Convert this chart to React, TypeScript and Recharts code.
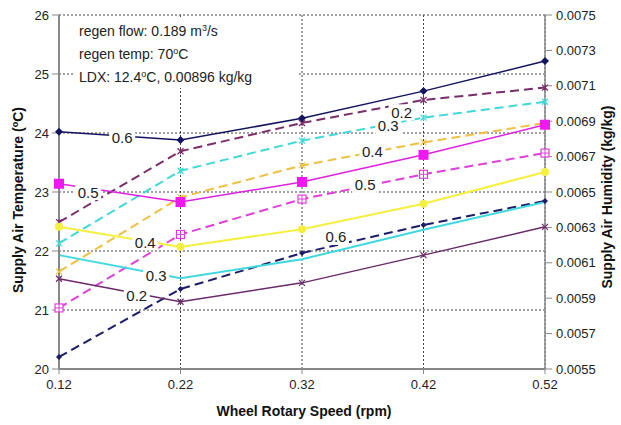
import {
  LineChart,
  Line,
  XAxis,
  YAxis,
  CartesianGrid,
  ReferenceDot,
} from 'recharts';

// ---------------------------------------------------------------------------
// Data
// ---------------------------------------------------------------------------

const speeds = [0.12, 0.22, 0.32, 0.42, 0.52];
const speedTicks = [0.12, 0.22, 0.32, 0.42, 0.52];
const tempTicks = [20, 21, 22, 23, 24, 25, 26];
const humTicks = [
  0.0055, 0.0057, 0.0059, 0.0061, 0.0063, 0.0065, 0.0067, 0.0069, 0.0071,
  0.0073, 0.0075,
];

// supply air temperature (degC) by desiccant effectiveness
const temp06 = [24.02, 23.88, 24.25, 24.71, 25.22];
const temp05 = [23.14, 22.83, 23.17, 23.63, 24.14];
const temp04 = [22.41, 22.07, 22.37, 22.8, 23.34];
const temp03 = [21.93, 21.54, 21.86, 22.36, 22.83];
const temp02 = [21.53, 21.14, 21.46, 21.93, 22.41];

// supply air humidity (kg/kg)
const hum02 = [0.00633, 0.00673, 0.00689, 0.00702, 0.00709];
const hum03 = [0.00621, 0.00662, 0.00679, 0.00692, 0.00701];
const hum04 = [0.00605, 0.00647, 0.00665, 0.00678, 0.00689];
const hum05 = [0.005845, 0.00626, 0.00646, 0.0066, 0.00672];
const hum06 = [0.005568, 0.005952, 0.006155, 0.006314, 0.006449];

// in-line curve tags (data coordinates)
const tempTags = [
  { text: '0.6', x: 0.172, y: 23.92 },
  { text: '0.5', x: 0.144, y: 23.0 },
  { text: '0.4', x: 0.191, y: 22.15 },
  { text: '0.3', x: 0.2, y: 21.58 },
  { text: '0.2', x: 0.184, y: 21.25 },
];
const humTags = [
  { text: '0.2', x: 0.402, y: 0.00695 },
  { text: '0.3', x: 0.391, y: 0.006873 },
  { text: '0.4', x: 0.378, y: 0.006726 },
  { text: '0.5', x: 0.372, y: 0.00654 },
  { text: '0.6', x: 0.348, y: 0.006246 },
];

const rows = speeds.map((s, i) => ({
  speed: s,
  t06: temp06[i],
  t05: temp05[i],
  t04: temp04[i],
  t03: temp03[i],
  t02: temp02[i],
  h02: hum02[i],
  h03: hum03[i],
  h04: hum04[i],
  h05: hum05[i],
  h06: hum06[i],
}));

// ---------------------------------------------------------------------------
// Markers
// ---------------------------------------------------------------------------

type Shape = 'diamond' | 'square' | 'circle' | 'x' | 'star' | 'boxcross' | 'none';

function marker(shape: Shape, color: string, size = 4) {
  return (p: any) => {
    const { cx, cy, index } = p;
    const k = `m-${index}`;
    if (cx == null || cy == null || shape === 'none') return <g key={k} />;
    const s = size;
    switch (shape) {
      case 'diamond':
        return (
          <path
            key={k}
            d={`M${cx},${cy - s} L${cx + s},${cy} L${cx},${cy + s} L${cx - s},${cy} Z`}
            fill={color}
          />
        );
      case 'square':
        return <rect key={k} x={cx - s} y={cy - s} width={2 * s} height={2 * s} fill={color} />;
      case 'circle':
        return <circle key={k} cx={cx} cy={cy} r={s} fill={color} />;
      case 'x':
        return (
          <path
            key={k}
            d={`M${cx - s},${cy - s} L${cx + s},${cy + s} M${cx - s},${cy + s} L${cx + s},${cy - s}`}
            stroke={color}
            strokeWidth={1.2}
          />
        );
      case 'star':
        return (
          <path
            key={k}
            d={`M${cx - s},${cy - s} L${cx + s},${cy + s} M${cx - s},${cy + s} L${cx + s},${cy - s} M${cx},${cy - s} L${cx},${cy + s}`}
            stroke={color}
            strokeWidth={1.2}
          />
        );
      case 'boxcross':
        return (
          <g key={k}>
            <rect x={cx - s} y={cy - s} width={2 * s} height={2 * s} fill="#fff" stroke={color} strokeWidth={1.2} />
            <path d={`M${cx - s},${cy} L${cx + s},${cy} M${cx},${cy - s} L${cx},${cy + s}`} stroke={color} strokeWidth={1} />
          </g>
        );
      default:
        return <g key={k} />;
    }
  };
}

function tagShape(text: string) {
  return (p: any) => {
    const { cx, cy } = p;
    if (cx == null || cy == null) return <g />;
    return (
      <g>
        <rect x={cx - 13} y={cy - 8} width={26} height={16} fill="#fff" />
        <text
          x={cx}
          y={cy}
          textAnchor="middle"
          dominantBaseline="central"
          fontSize={15}
          fill="#222"
        >
          {text}
        </text>
      </g>
    );
  };
}

// ---------------------------------------------------------------------------
// Component
// ---------------------------------------------------------------------------

const W = 621;
const H = 425;
const FONT = 'Arial, "Liberation Sans", sans-serif';
const tickStyle = { fontSize: 13, fill: '#222', fontFamily: FONT };

export default function App() {
  return (
    <div style={{ position: 'absolute', left: 0, top: 0, width: W, height: H, background: '#fff', fontFamily: FONT }}>
      <LineChart
        width={W}
        height={H}
        data={rows}
        margin={{ top: 15, right: 0, bottom: 0, left: 0 }}
      >
        <CartesianGrid
          yAxisId="left"
          stroke="#444"
          strokeDasharray="2 2"
          strokeWidth={1}
        />
        <XAxis
          dataKey="speed"
          type="number"
          domain={[0.12, 0.52]}
          ticks={speedTicks}
          tickFormatter={(v: number) => v.toFixed(2)}
          tick={tickStyle}
          height={56}
          tickSize={5}
          tickMargin={6}
          stroke="#888"
          axisLine={{ stroke: '#888', strokeWidth: 2 }}
          interval={0}
        />
        <YAxis
          yAxisId="left"
          orientation="left"
          domain={[20, 26]}
          ticks={tempTicks}
          tick={tickStyle}
          width={59}
          tickSize={7}
          tickMargin={3}
          stroke="#888"
          axisLine={{ stroke: '#888', strokeWidth: 2 }}
          interval={0}
        />
        <YAxis
          yAxisId="right"
          orientation="right"
          domain={[0.0055, 0.0075]}
          ticks={humTicks}
          tickFormatter={(v: number) => v.toFixed(4)}
          tick={tickStyle}
          width={76}
          tickSize={7}
          tickMargin={4}
          stroke="#888"
          axisLine={{ stroke: '#888', strokeWidth: 1.5 }}
          interval={0}
        />

        {/* humidity, dashed */}
        <Line yAxisId="right" dataKey="h02" stroke="#7a2d6a" strokeWidth={2} strokeDasharray="9 5" dot={marker('star', '#7a2d6a', 3)} isAnimationActive={false} />
        <Line yAxisId="right" dataKey="h03" stroke="#40d8d8" strokeWidth={2} strokeDasharray="9 5" dot={marker('star', '#40d8d8', 3)} isAnimationActive={false} />
        <Line yAxisId="right" dataKey="h04" stroke="#f0c040" strokeWidth={2} strokeDasharray="9 5" dot={marker('x', '#f0c040', 3)} isAnimationActive={false} />
        <Line yAxisId="right" dataKey="h05" stroke="#e040d8" strokeWidth={2} strokeDasharray="9 5" dot={marker('boxcross', '#e040d8', 4)} isAnimationActive={false} />
        <Line yAxisId="right" dataKey="h06" stroke="#1c1c6a" strokeWidth={2} strokeDasharray="9 5" dot={marker('diamond', '#1c1c6a', 3)} isAnimationActive={false} />

        {/* temperature, solid */}
        <Line yAxisId="left" dataKey="t06" stroke="#14145e" strokeWidth={1.5} dot={marker('diamond', '#14145e', 4)} isAnimationActive={false} />
        <Line yAxisId="left" dataKey="t05" stroke="#e020e0" strokeWidth={1.5} dot={marker('square', '#f018f0', 5)} isAnimationActive={false} />
        <Line yAxisId="left" dataKey="t04" stroke="#f5f040" strokeWidth={2} dot={marker('circle', '#f5f040', 4)} isAnimationActive={false} />
        <Line yAxisId="left" dataKey="t03" stroke="#40d8e0" strokeWidth={2} dot={marker('none', '#40d8e0')} isAnimationActive={false} />
        <Line yAxisId="left" dataKey="t02" stroke="#6a2a6a" strokeWidth={1.5} dot={marker('x', '#6a2a6a', 3)} isAnimationActive={false} />

        {tempTags.map((t) => (
          <ReferenceDot key={`t${t.text}`} yAxisId="left" x={t.x} y={t.y} r={0} shape={tagShape(t.text)} />
        ))}
        {humTags.map((t) => (
          <ReferenceDot key={`h${t.text}`} yAxisId="right" x={t.x} y={t.y} r={0} shape={tagShape(t.text)} />
        ))}
      </LineChart>

      <svg
        width={W}
        height={H}
        style={{ position: 'absolute', left: 0, top: 0, pointerEvents: 'none' }}
      >
        <rect x={75} y={17} width={222} height={71} fill="#fff" />
        <g fontFamily={FONT} fontSize={14} fill="#222">
          <text x={79} y={36}>
            regen flow: 0.189 m<tspan dy={-5} fontSize={9}>3</tspan>
            <tspan dy={5}>/s</tspan>
          </text>
          <text x={79} y={59}>
            regen temp: 70<tspan dy={-5} fontSize={9}>o</tspan>
            <tspan dy={5}>C</tspan>
          </text>
          <text x={79} y={82}>
            LDX: 12.4<tspan dy={-5} fontSize={9}>o</tspan>
            <tspan dy={5}>C, 0.00896 kg/kg</tspan>
          </text>
        </g>
        <g fontFamily={FONT} fontSize={14} fontWeight="bold" fill="#111">
          <text x={304} y={416} textAnchor="middle">
            Wheel Rotary Speed (rpm)
          </text>
          <text x={23} y={200} textAnchor="middle" transform="rotate(-90 23 200)">
            Supply Air Temperature (<tspan dy={-5} fontSize={9}>o</tspan>
            <tspan dy={5}>C)</tspan>
          </text>
          <text x={612} y={197} textAnchor="middle" transform="rotate(-90 612 197)">
            Supply Air Humidity (kg/kg)
          </text>
        </g>
      </svg>
    </div>
  );
}
